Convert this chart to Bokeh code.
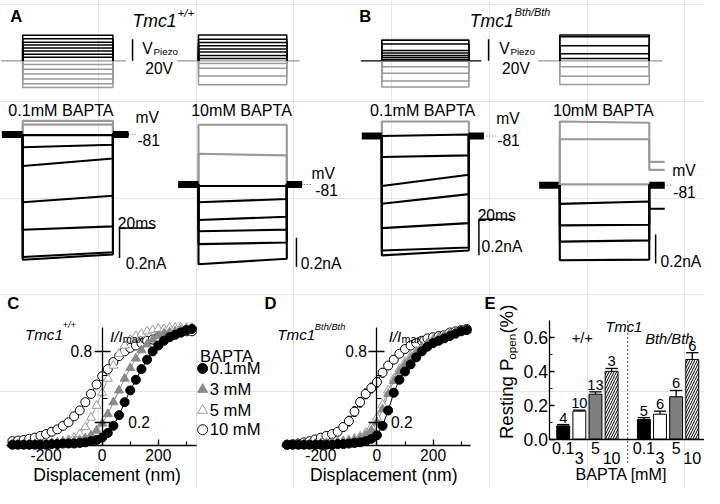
import math
from bokeh.plotting import figure
from bokeh.models import Range1d, LinearAxis, FixedTicker, NumeralTickFormatter
from bokeh.core.properties import value
from bokeh.embed import file_html
from bokeh.resources import INLINE

FONT = "Liberation Sans"
W, H = 704, 488                 # figure size in screen pixels
RW, RH = 720.0, 504.0           # layout grid (reference pixels) mapped onto the figure
FS = W / RW                     # font scale

# ------------------------------------------------------------------ data
PULSE_MS = 52.0          # duration of the piezo step (ms)
T_PRE, T_POST = -12.0, 61.0
STIM_PRE, STIM_POST = -12.5, 59.5

# piezo driver voltages (V) per recording
stimA01_black = [23.6, 20.4, 17.3, 14.6, 11.9, 9.2, 6.1, 3.4]
stimA01_gray = [-3.3, -7.8, -12.3, -16.8, -21.3, -24.8]
stimA10_black = [23.9, 20.0, 17.0, 14.0, 11.0, 8.1, 5.0, 2.1]
stimA10_gray = [-2.4, -6.9, -14.1, -22.2]
stimB01_gray = [19.8, -5.4, -11.4, -18.8, -24.2]
stimB01_black = [19.0, 15.5, 9.5, 7.2, 5.0, 3.0, 1.2]
stimB10_black = [23.9, 22.4, 14.0, 6.5, 2.1]
stimB10_gray = [-5.4, -14.3, -21.9]

# transducer currents (nA, relative to holding current) at step onset / offset, and after the step
curA01_black_on = [-0.005, -0.086, -0.21, -0.452, -0.635, -0.817, -0.835]
curA01_black_off = [-0.005, -0.069, -0.16, -0.409, -0.613, -0.785, -0.800]
curA01_gray_on = [0.090, 0.065]
curA01_gray_off = [0.090, 0.065]

curA10_black_on = [-0.011, -0.122, -0.245, -0.322, -0.411, -0.549]
curA10_black_off = [-0.011, -0.100, -0.222, -0.311, -0.400, -0.511]
curA10_gray_on = [0.411, 0.211]
curA10_gray_off = [0.411, 0.200]

curB01_black_on = [0.0, -0.117, -0.279, -0.378, -0.514, -0.639, -0.666]
curB01_black_off = [0.009, -0.108, -0.216, -0.324, -0.486, -0.622, -0.639]
curB01_gray_on = [0.081]
curB01_gray_off = [0.081]

curB10_black_on = [-0.129, -0.277, -0.389, -0.517]
curB10_black_off = [-0.113, -0.273, -0.380, -0.513]
curB10_black_tail = [-0.163, 0.0, 0.0, 0.0]
curB10_gray_on = [0.438, 0.316, 0.005]
curB10_gray_off = [0.430, 0.316, 0.005]
curB10_gray_tail = [0.16, 0.105, 0.0]

# activation curves (I/Imax vs displacement, nm)
disp_nm = [-320, -300, -280, -260, -240, -220, -200, -180, -160, -140, -120, -100, -80, -60,
           -40, -20, 0, 20, 40, 60, 80, 100, 120, 140, 160, 180, 200, 220, 240, 260, 280, 300, 320]
C_01 = [0.01, 0.01, 0.01, 0.01, 0.01, 0.01, 0.01, 0.015, 0.015, 0.02, 0.02, 0.02, 0.025, 0.03,
        0.04, 0.05, 0.07, 0.11, 0.17, 0.26, 0.37, 0.47, 0.56, 0.65, 0.73, 0.80, 0.85, 0.89, 0.92,
        0.94, 0.96, 0.98, 0.99]
C_3 = [0.01, 0.01, 0.01, 0.01, 0.015, 0.015, 0.02, 0.02, 0.025, 0.03, 0.035, 0.04, 0.05, 0.065,
       0.09, 0.13, 0.19, 0.27, 0.37, 0.47, 0.57, 0.66, 0.74, 0.81, 0.86, 0.90, 0.93, 0.95, 0.96,
       0.97, 0.98, 0.99, 0.99]
C_5 = [0.01, 0.01, 0.01, 0.015, 0.015, 0.02, 0.02, 0.025, 0.03, 0.04, 0.05, 0.07, 0.10, 0.16,
       0.24, 0.34, 0.45, 0.57, 0.68, 0.78, 0.85, 0.90, 0.93, 0.95, 0.97, 0.98, 0.99, 0.99, 1.0,
       1.0, 1.0, 1.0, 1.0]
C_10 = [0.04, 0.045, 0.05, 0.06, 0.07, 0.085, 0.10, 0.12, 0.14, 0.17, 0.20, 0.25, 0.30, 0.37,
        0.44, 0.52, 0.59, 0.65, 0.71, 0.76, 0.80, 0.83, 0.85, 0.87, 0.89, 0.90, 0.92, 0.93, 0.94,
        0.95, 0.96, 0.97, 0.97]
D_01 = [0.01, 0.01, 0.01, 0.01, 0.01, 0.01, 0.01, 0.01, 0.01, 0.015, 0.015, 0.02, 0.025, 0.03,
        0.04, 0.06, 0.09, 0.17, 0.30, 0.45, 0.56, 0.63, 0.69, 0.75, 0.80, 0.84, 0.87, 0.89, 0.91,
        0.93, 0.95, 0.97, 0.98]
D_3 = [0.01, 0.01, 0.01, 0.01, 0.015, 0.015, 0.02, 0.02, 0.025, 0.03, 0.035, 0.04, 0.05, 0.065,
       0.09, 0.13, 0.20, 0.31, 0.44, 0.55, 0.63, 0.69, 0.74, 0.79, 0.83, 0.86, 0.89, 0.91, 0.93,
       0.95, 0.96, 0.97, 0.98]
D_5 = [0.01, 0.01, 0.01, 0.015, 0.015, 0.02, 0.02, 0.025, 0.03, 0.035, 0.04, 0.05, 0.06, 0.08,
       0.11, 0.16, 0.24, 0.35, 0.47, 0.57, 0.65, 0.71, 0.76, 0.80, 0.84, 0.87, 0.90, 0.92, 0.94,
       0.95, 0.96, 0.97, 0.98]
D_10 = [0.01, 0.015, 0.02, 0.03, 0.04, 0.055, 0.07, 0.085, 0.10, 0.12, 0.16, 0.21, 0.29, 0.37,
        0.44, 0.49, 0.54, 0.62, 0.68, 0.73, 0.78, 0.82, 0.85, 0.87, 0.89, 0.91, 0.92, 0.93, 0.94,
        0.96, 0.97, 0.98, 0.99]
D_10_err = [0.005, 0.005, 0.01, 0.01, 0.015, 0.02, 0.02, 0.025, 0.03, 0.03, 0.035, 0.04, 0.04,
            0.04, 0.04, 0.04, 0.04, 0.035, 0.03, 0.03, 0.025, 0.02, 0.02, 0.015, 0.015, 0.01, 0.01,
            0.01, 0.01, 0.01, 0.01, 0.005, 0.005]

# resting open probability
bapta_labels = ["0.1", "3", "5", "10"]
E_wt = [0.078, 0.165, 0.265, 0.400]
E_wt_err = [0.008, 0.006, 0.014, 0.017]
E_wt_n = ["4", "10", "13", "3"]
E_bth = [0.116, 0.147, 0.250, 0.470]
E_bth_err = [0.011, 0.018, 0.037, 0.040]
E_bth_n = ["5", "6", "6", "6"]

# ------------------------------------------------------------------ figure
p = figure(width=W, height=H, output_backend="svg", toolbar_location=None,
           x_range=Range1d(0, RW), y_range=Range1d(0, RH),
           x_axis_location=None, y_axis_location=None, min_border=0)
p.outline_line_color = None
p.background_fill_color = "white"


def Y(ry):
    return RH - ry


def xr(d0, p0, d1, p1):
    k = (p1 - p0) / (d1 - d0)
    return Range1d(d0 + (0 - p0) / k, d0 + (RW - p0) / k)


def yr(d0, p0, d1, p1):
    k = (p1 - p0) / (d1 - d0)
    return Range1d(d0 + (RH - p0) / k, d0 + (0 - p0) / k)


p.extra_x_ranges = {
    "axl": xr(0, 22.7, PULSE_MS, 115.0),
    "axr": xr(0, 202.5, PULSE_MS, 292.8),
    "bxl": xr(0, 390.0, PULSE_MS, 479.0),
    "bxr": xr(0, 572.0, PULSE_MS, 663.5),
    "cx": xr(0, 104.0, 200, 161.4),
    "dx": xr(0, 385.0, 200, 442.4),
    "ex": xr(0, 575.5, 1, 592.0),
}
p.extra_y_ranges = {
    "stim": yr(0, 62.3, 20, 40.0),
    "ayl": yr(0, 138.3, -0.2, 169.3),
    "ayr": yr(0, 190.0, -0.2, 220.0),
    "byl": yr(0, 140.0, -0.2, 177.0),
    "byr": yr(0, 190.7, -0.2, 220.7),
    "cy": yr(0, 460.0, 1, 338.0),
    "ey": yr(0, 453.0, 0.6, 348.0),
}


def fs(size):
    return f"{size * FS:.1f}px"


def label(x, y, s, size, style="normal", align="left", baseline="alphabetic",
          color="black", angle=0.0, xn="default", yn="default"):
    p.text(x=[x], y=[y], text=[s], text_font=value(FONT), text_font_size=value(fs(size)),
           text_font_style=style, text_align=align, text_baseline=baseline,
           text_color=color, angle=angle, x_range_name=xn, y_range_name=yn)


GRAY_TR = "#9a9a9a"


def stim(xn, black, gray, base_color):
    p.line([STIM_PRE, STIM_POST], [0, 0], line_color=base_color, line_width=1.2,
           x_range_name=xn, y_range_name="stim")
    for lev, col in ((gray, GRAY_TR), (black, "black")):
        xs = [[0, 0, PULSE_MS, PULSE_MS] for _ in lev]
        ys = [[0, v, v, 0] for v in lev]
        p.multi_line(xs, ys, line_color=col, line_width=1.5, x_range_name=xn, y_range_name="stim")


def currents(xn, yn, on, off, color, tail=None, width=2.1):
    tail = tail if tail is not None else [0.0] * len(on)
    xs = [[0, 0, PULSE_MS, PULSE_MS, T_POST] for _ in on]
    ys = [[0, a, b, c, c] for a, b, c in zip(on, off, tail)]
    p.multi_line(xs, ys, line_color=color, line_width=width, x_range_name=xn, y_range_name=yn)


def bands(xn, yn):
    p.segment(x0=[T_PRE, PULSE_MS], y0=[0, 0], x1=[0, T_POST], y1=[0, 0], line_color="black",
              line_width=7, x_range_name=xn, y_range_name=yn)


# ---- panel A / B stimuli
stim("axl", stimA01_black, stimA01_gray, GRAY_TR)
stim("axr", stimA10_black, stimA10_gray, GRAY_TR)
stim("bxl", stimB01_black, stimB01_gray, "black")
stim("bxr", stimB10_black, stimB10_gray, GRAY_TR)

# ---- currents
currents("axl", "ayl", curA01_gray_on, curA01_gray_off, GRAY_TR)
currents("axl", "ayl", curA01_black_on, curA01_black_off, "black")
bands("axl", "ayl")
currents("axr", "ayr", curA10_gray_on, curA10_gray_off, GRAY_TR)
currents("axr", "ayr", curA10_black_on, curA10_black_off, "black")
bands("axr", "ayr")
currents("bxl", "byl", curB01_gray_on, curB01_gray_off, GRAY_TR)
currents("bxl", "byl", curB01_black_on, curB01_black_off, "black")
bands("bxl", "byl")
bands("bxr", "byr")
currents("bxr", "byr", curB10_gray_on, curB10_gray_off, GRAY_TR, tail=curB10_gray_tail)
currents("bxr", "byr", curB10_black_on, curB10_black_off, "black", tail=curB10_black_tail)

# ---- scale bars
for xn, t0 in (("axl", 63.3), ("bxl", 63.8)):
    p.line([t0, t0], [0, 20], line_color="black", line_width=1.5, x_range_name=xn, y_range_name="stim")
for xn, yn, t0, i0, horiz in (("axl", "ayl", 55.8, -0.624, True), ("axr", "ayr", 57.7, -0.367, False),
                               ("bxl", "byl", 58.0, -0.465, True), ("bxr", "byr", 55.7, -0.34, False)):
    if horiz:
        p.line([t0 + 20, t0, t0], [i0, i0, i0 - 0.2], line_color="black", line_width=1.5,
               x_range_name=xn, y_range_name=yn)
    else:
        p.line([t0, t0], [i0, i0 - 0.2], line_color="black", line_width=1.5,
               x_range_name=xn, y_range_name=yn)
# dotted -81 mV markers
for xn, yn, t0, t1 in (("axl", "ayl", 61, 65), ("axr", "ayr", 62, 66.6),
                       ("bxl", "byl", 62.5, 68.3), ("bxr", "byr", 60.5, 65.3)):
    p.line([t0, t1], [0, 0], line_color="#555555", line_width=1, line_dash="1 2",
           x_range_name=xn, y_range_name=yn)

# ---- panel A/B texts
label(10, Y(17), "A", 17, "bold")
label(367, Y(17), "B", 17, "bold")
label(135, Y(20.7), "Tmc1", 18, "italic")
label(181, Y(12), "+/+", 12, "italic")
label(480, Y(20.7), "Tmc1", 18, "italic")
label(526, Y(12), "Bth/Bth", 11, "italic")
for x0 in (145, 510):
    label(x0, Y(50), "V", 16)
    label(x0 + 11.5, Y(53), "Piezo", 10)
    label(x0 + 3, Y(70), "20V", 16)
label(8, Y(113), "0.1mM BAPTA", 16.5)
label(195, Y(113), "10mM BAPTA", 16.5)
label(378, Y(113), "0.1mM BAPTA", 16.5)
label(565, Y(113), "10mM BAPTA", 16.5)
for xm, ym, xv, yv in ((138, 120.7, 140, 144), (318, 179, 322, 195.7),
                       (507, 122, 508, 144), (687, 175.7, 688, 197.7)):
    label(xm, Y(ym), "mV", 16)
    label(xv, Y(yv), "-81", 16)
label(120, Y(230.7), "20ms", 16)
label(488, Y(221.7), "20ms", 16)
label(128, Y(271.7), "0.2nA", 16)
label(307, Y(271.7), "0.2nA", 16)
label(492, Y(254), "0.2nA", 16)
label(675, Y(270), "0.2nA", 16)

# ---- panels C and D
GR3 = "#8a8a8a"
GR5 = "#9c9c9c"


def activation(xn, s01, s3, s5, s10, err10=None):
    p.line(disp_nm, s01, line_color="black", line_width=1, x_range_name=xn, y_range_name="cy")
    p.line(disp_nm, s3, line_color=GR3, line_width=1, x_range_name=xn, y_range_name="cy")
    p.line(disp_nm, s5, line_color=GR5, line_width=1, x_range_name=xn, y_range_name="cy")
    p.line(disp_nm, s10, line_color="black", line_width=1, x_range_name=xn, y_range_name="cy")
    if err10 is not None:
        lo = [a - e for a, e in zip(s10, err10)]
        hi = [a + e for a, e in zip(s10, err10)]
        p.segment(x0=disp_nm, y0=lo, x1=disp_nm, y1=hi, line_color="black", line_width=1,
                  x_range_name=xn, y_range_name="cy")
        p.rect(x=disp_nm, y=hi, width=12, height=0.001, line_color="black", fill_color=None,
               x_range_name=xn, y_range_name="cy")
        p.rect(x=disp_nm, y=lo, width=12, height=0.001, line_color="black", fill_color=None,
               x_range_name=xn, y_range_name="cy")
    p.scatter(disp_nm, s10, marker="circle", size=9, fill_color="white", line_color="black",
              line_width=1, x_range_name=xn, y_range_name="cy")
    p.scatter(disp_nm, s5, marker="triangle", size=9, fill_color="white", line_color=GR5,
              line_width=1, x_range_name=xn, y_range_name="cy")
    p.scatter(disp_nm, s3, marker="triangle", size=9, fill_color=GR3, line_color=GR3,
              line_width=1, x_range_name=xn, y_range_name="cy")
    p.scatter(disp_nm, s01, marker="circle", size=9, fill_color="black", line_color="black",
              x_range_name=xn, y_range_name="cy")


activation("cx", C_01, C_3, C_5, C_10)
activation("dx", D_01, D_3, D_5, D_10, D_10_err)


def style_axis(ax, size=16):
    ax.axis_line_width = 1.3
    ax.major_tick_line_width = 1.3
    ax.minor_tick_line_width = 1.2
    ax.major_label_text_font = FONT
    ax.major_label_text_font_size = fs(size)
    ax.major_label_text_color = "black"
    ax.axis_line_color = "black"
    ax.major_tick_line_color = "black"
    ax.minor_tick_line_color = "black"


for xn, standoff_02 in (("cx", 18), ("dx", 6)):
    xa = LinearAxis(x_range_name=xn, y_range_name="cy", fixed_location=0, bounds=(-340, 335),
                    ticker=FixedTicker(ticks=[-200, 0, 200], minor_ticks=[-300, -100, 100, 300]),
                    formatter=NumeralTickFormatter(format="0"))
    style_axis(xa)
    xa.major_tick_in, xa.major_tick_out = 6, 0
    xa.minor_tick_in, xa.minor_tick_out = 4, 0
    xa.major_label_standoff = 3
    p.add_layout(xa, "below")

    # axis line with crossing ticks at 0.2 and 0.8 (drawn as unlabeled minor ticks)
    ya = LinearAxis(x_range_name=xn, y_range_name="cy", fixed_location=0, bounds=(0, 1.0),
                    ticker=FixedTicker(ticks=[], minor_ticks=[0.2, 0.8]))
    style_axis(ya)
    ya.minor_tick_in, ya.minor_tick_out = 8, 8
    ya.minor_tick_line_width = 1.3
    p.add_layout(ya, "left")

    # "0.8" label on the left side, small inner ticks at 0.4 / 0.6
    yl = LinearAxis(x_range_name=xn, y_range_name="cy", fixed_location=0, bounds=(0, 1.0),
                    ticker=FixedTicker(ticks=[0.8], minor_ticks=[0.4, 0.6]),
                    formatter=NumeralTickFormatter(format="0.0"))
    style_axis(yl)
    yl.axis_line_color = None
    yl.major_tick_in, yl.major_tick_out = 0, 8
    yl.major_tick_line_color = None
    yl.minor_tick_in, yl.minor_tick_out = 5, 0
    yl.major_label_standoff = 2
    p.add_layout(yl, "left")

    # "0.2" label on the right side
    yrr = LinearAxis(x_range_name=xn, y_range_name="cy", fixed_location=0, bounds=(0, 1.0),
                     ticker=FixedTicker(ticks=[0.2], minor_ticks=[]),
                     formatter=NumeralTickFormatter(format="0.0"))
    style_axis(yrr)
    yrr.axis_line_color = None
    yrr.major_tick_in, yrr.major_tick_out = 0, 8
    yrr.major_tick_line_color = None
    yrr.major_label_standoff = standoff_02
    p.add_layout(yrr, "right")

label(7, Y(313), "C", 17, "bold")
label(270, Y(313), "D", 17, "bold")
label(25, Y(345), "Tmc1", 15.5, "italic")
label(63.5, Y(335), "+/+", 9.5, "italic")
label(283, Y(345), "Tmc1", 15.5, "italic")
label(321.5, Y(337), "Bth/Bth", 9.5, "italic")
for x0 in (112, 397):
    label(x0, Y(346.7), "I/I", 15.5, "italic")
    label(x0 + 13, Y(349.5), "max", 11)
label(109, Y(490.5), "Displacement (nm)", 18, align="center")
label(392, Y(490.5), "Displacement (nm)", 18, align="center")

# legend
label(204, Y(368), "BAPTA", 17)
leg_y = [380, 401.7, 423.3, 443.3]
leg_txt = ["0.1mM", "3 mM", "5 mM", "10 mM"]
p.scatter([206.7], [Y(leg_y[0])], marker="circle", size=10, fill_color="black", line_color="black")
p.scatter([206.7], [Y(leg_y[1])], marker="triangle", size=10, fill_color=GR3, line_color=GR3)
p.scatter([206.7], [Y(leg_y[2])], marker="triangle", size=10, fill_color="white", line_color=GR5)
p.scatter([206.7], [Y(leg_y[3])], marker="circle", size=10, fill_color="white", line_color="black")
for yy, tt in zip(leg_y, leg_txt):
    label(214, Y(yy), tt, 17, baseline="middle")

# ---- panel E
xs_wt = [0, 1, 2, 3]
xs_bth = [5, 6, 7, 8]
fills = ["black", "white", "#7f7f7f", "white"]
for xs, vals, errs, ns in ((xs_wt, E_wt, E_wt_err, E_wt_n), (xs_bth, E_bth, E_bth_err, E_bth_n)):
    p.vbar(x=xs[:3], top=vals[:3], bottom=0, width=0.8, fill_color=fills[:3], line_color="black",
           line_width=1, x_range_name="ex", y_range_name="ey")
    p.vbar(x=xs[3:], top=vals[3:], bottom=0, width=0.8, fill_color="white", line_color="black",
           line_width=1, hatch_pattern="/", hatch_color="black", hatch_scale=5, hatch_weight=1,
           x_range_name="ex", y_range_name="ey")
    hi = [v + e for v, e in zip(vals, errs)]
    p.segment(x0=xs, y0=vals, x1=xs, y1=hi, line_color="black", line_width=1.3,
              x_range_name="ex", y_range_name="ey")
    p.segment(x0=[x - 0.38 for x in xs], y0=hi, x1=[x + 0.38 for x in xs], y1=hi,
              line_color="black", line_width=1.3, x_range_name="ex", y_range_name="ey")
    p.text(x=xs, y=hi, text=ns, text_font=value(FONT), text_font_size=value(fs(15)),
           text_align="center", text_baseline="bottom", y_offset=-2,
           x_range_name="ex", y_range_name="ey")
    rows = [-0.051, -0.114, -0.051, -0.114]
    p.text(x=xs, y=rows, text=bapta_labels, text_font=value(FONT),
           text_font_size=value(fs(16.5)), text_align="center", text_baseline="middle",
           x_range_name="ex", y_range_name="ey")

p.line([4, 4], [-0.14, 0.70], line_color="#444444", line_width=1, line_dash="2 2",
       x_range_name="ex", y_range_name="ey")

ey_ax = LinearAxis(x_range_name="ex", y_range_name="ey", fixed_location=-0.82, bounds=(0, 0.7),
                   ticker=FixedTicker(ticks=[0, 0.2, 0.4, 0.6], minor_ticks=[0.1, 0.3, 0.5]),
                   formatter=NumeralTickFormatter(format="0.0"))
style_axis(ey_ax, 18)
ey_ax.major_tick_in, ey_ax.major_tick_out = 5, 0
ey_ax.minor_tick_in, ey_ax.minor_tick_out = 3, 0
ey_ax.major_label_standoff = 2
p.add_layout(ey_ax, "left")

ex_ax = LinearAxis(x_range_name="ex", y_range_name="ey", fixed_location=0, bounds=(-0.82, 9.0),
                   ticker=FixedTicker(ticks=[], minor_ticks=[]))
style_axis(ex_ax)
p.add_layout(ex_ax, "below")

label(495, Y(313), "E", 17, "bold")
label(637.5, Y(336.7), "Tmc1", 15, "italic", align="center")
label(595, Y(349), "+/+", 15, align="center")
label(684, Y(350), "Bth/Bth", 15, "italic", align="center")
label(635, Y(489), "BAPTA [mM]", 16.5, align="center")
# rotated y title: Resting P_open (%)
label(518, Y(453), "Resting P", 19, baseline="middle", angle=math.pi / 2)
label(523, Y(371), "open", 12, baseline="middle", angle=math.pi / 2)
label(518, Y(344), "(%)", 19, baseline="middle", angle=math.pi / 2)

open("out.html", "w").write(file_html(p, INLINE))
